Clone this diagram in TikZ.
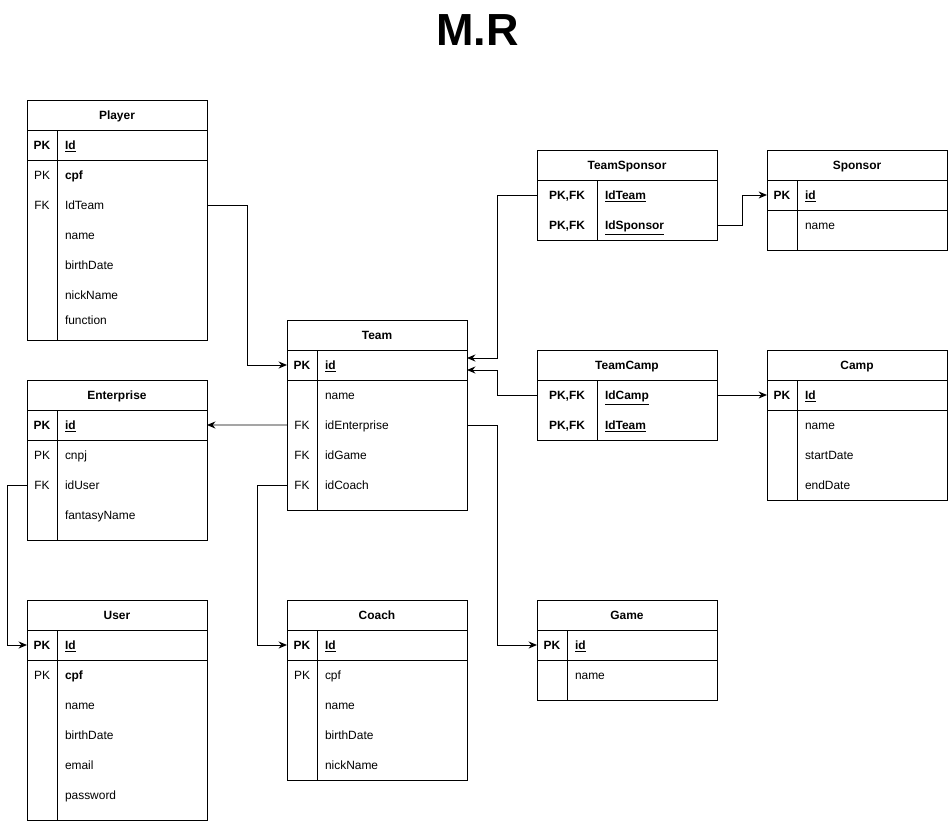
\documentclass[tikz,border=0pt]{standalone}
\usepackage{fontspec}
\setmainfont{Liberation Sans}
\usetikzlibrary{
  arrows.meta,
  positioning
}
\newcommand{\rowfont}{\fontsize{8.5}{10}\selectfont}
\tikzset{
  tabtitle/.style={
    draw=black, line width=0.7pt, outer sep=0pt, inner sep=0pt,
    minimum width=4.5cm, minimum height=0.75cm, anchor=north west,
    text height=1.6ex, text depth=0.4ex,
    font=\rowfont\bfseries
  },
  pkrow/.style={
    draw=black, line width=0.7pt, outer sep=0pt, inner sep=0pt,
    minimum width=4.5cm, minimum height=0.75cm
  },
  tabbody/.style={
    draw=black, line width=0.7pt, outer sep=0pt, inner sep=0pt,
    minimum width=4.5cm
  },
  keytxt/.style={
    outer sep=0pt, inner sep=0pt, minimum width=0.75cm,
    minimum height=0.75cm, text height=1.6ex, text depth=0.4ex,
    font=\rowfont
  },
  keywide/.style={keytxt, minimum width=1.5cm},
  fieldtxt/.style={
    outer sep=0pt, inner xsep=0.2cm, inner ysep=0pt,
    minimum height=0.75cm, text height=1.6ex, text depth=0.4ex,
    font=\rowfont
  },
  pkfont/.style={font=\rowfont\bfseries},
  coldiv/.style={draw=black, line width=0.7pt},
  relarrow/.style={
    -{Stealth[length=6pt,width=5pt]},
    draw=black, line width=0.7pt
  },
  diagramtitle/.style={
    font=\fontsize{32}{36}\selectfont\bfseries
  },
}

\begin{document}
\begin{tikzpicture}

  \useasboundingbox (0,0) rectangle (23.7,-20.525);

  \node[diagramtitle] (T) at (11.94,-0.75) {M.R};

  %% Player
  \node[tabtitle] (pl) at (0.675,-2.5) {Player};
  \node[pkrow, below=0pt of pl] (plpk) {};
  \node[tabbody, below=0pt of plpk, minimum height=4.5cm] (plbody) {};
  \draw[coldiv] ([xshift=0.75cm]plpk.north west) -- ([xshift=0.75cm]plbody.south west);
  \node[keytxt, pkfont, anchor=north west] (plk0) at (plpk.north west) {PK};
  \node[fieldtxt, pkfont, right=0pt of plk0] (plf0) {\underline{Id}};
  \node[keytxt, below=0pt of plk0] (plk1) {PK};
  \node[fieldtxt, right=0pt of plk1] (plf1) {\textbf{cpf}};
  \node[keytxt, below=0pt of plk1] (plk2) {FK};
  \node[fieldtxt, right=0pt of plk2] (plf2) {IdTeam};
  \node[keytxt, below=0pt of plk2] (plk3) {};
  \node[fieldtxt, right=0pt of plk3] (plf3) {name};
  \node[keytxt, below=0pt of plk3] (plk4) {};
  \node[fieldtxt, right=0pt of plk4] (plf4) {birthDate};
  \node[keytxt, below=0pt of plk4] (plk5) {};
  \node[fieldtxt, right=0pt of plk5] (plf5) {nickName};
  \node[keytxt, below=0pt of plk5, yshift=0.125cm] (plk6) {};
  \node[fieldtxt, right=0pt of plk6] (plf6) {function};

  %% Team
  \node[tabtitle] (tm) at (7.175,-8) {Team};
  \node[pkrow, below=0pt of tm] (tmpk) {};
  \node[tabbody, below=0pt of tmpk, minimum height=3.25cm] (tmbody) {};
  \draw[coldiv] ([xshift=0.75cm]tmpk.north west) -- ([xshift=0.75cm]tmbody.south west);
  \node[keytxt, pkfont, anchor=north west] (tmk0) at (tmpk.north west) {PK};
  \node[fieldtxt, pkfont, right=0pt of tmk0] (tmf0) {\underline{id}};
  \node[keytxt, below=0pt of tmk0] (tmk1) {};
  \node[fieldtxt, right=0pt of tmk1] (tmf1) {name};
  \node[keytxt, below=0pt of tmk1] (tmk2) {FK};
  \node[fieldtxt, right=0pt of tmk2] (tmf2) {idEnterprise};
  \node[keytxt, below=0pt of tmk2] (tmk3) {FK};
  \node[fieldtxt, right=0pt of tmk3] (tmf3) {idGame};
  \node[keytxt, below=0pt of tmk3] (tmk4) {FK};
  \node[fieldtxt, right=0pt of tmk4] (tmf4) {idCoach};

  %% Enterprise
  \node[tabtitle] (en) at (0.675,-9.5) {Enterprise};
  \node[pkrow, below=0pt of en] (enpk) {};
  \node[tabbody, below=0pt of enpk, minimum height=2.5cm] (enbody) {};
  \draw[coldiv] ([xshift=0.75cm]enpk.north west) -- ([xshift=0.75cm]enbody.south west);
  \node[keytxt, pkfont, anchor=north west] (enk0) at (enpk.north west) {PK};
  \node[fieldtxt, pkfont, right=0pt of enk0] (enf0) {\underline{id}};
  \node[keytxt, below=0pt of enk0] (enk1) {PK};
  \node[fieldtxt, right=0pt of enk1] (enf1) {cnpj};
  \node[keytxt, below=0pt of enk1] (enk2) {FK};
  \node[fieldtxt, right=0pt of enk2] (enf2) {idUser};
  \node[keytxt, below=0pt of enk2] (enk3) {};
  \node[fieldtxt, right=0pt of enk3] (enf3) {fantasyName};

  %% User
  \node[tabtitle] (us) at (0.675,-15) {User};
  \node[pkrow, below=0pt of us] (uspk) {};
  \node[tabbody, below=0pt of uspk, minimum height=4.0cm] (usbody) {};
  \draw[coldiv] ([xshift=0.75cm]uspk.north west) -- ([xshift=0.75cm]usbody.south west);
  \node[keytxt, pkfont, anchor=north west] (usk0) at (uspk.north west) {PK};
  \node[fieldtxt, pkfont, right=0pt of usk0] (usf0) {\underline{Id}};
  \node[keytxt, below=0pt of usk0] (usk1) {PK};
  \node[fieldtxt, right=0pt of usk1] (usf1) {\textbf{cpf}};
  \node[keytxt, below=0pt of usk1] (usk2) {};
  \node[fieldtxt, right=0pt of usk2] (usf2) {name};
  \node[keytxt, below=0pt of usk2] (usk3) {};
  \node[fieldtxt, right=0pt of usk3] (usf3) {birthDate};
  \node[keytxt, below=0pt of usk3] (usk4) {};
  \node[fieldtxt, right=0pt of usk4] (usf4) {email};
  \node[keytxt, below=0pt of usk4] (usk5) {};
  \node[fieldtxt, right=0pt of usk5] (usf5) {password};

  %% Coach
  \node[tabtitle] (co) at (7.175,-15) {Coach};
  \node[pkrow, below=0pt of co] (copk) {};
  \node[tabbody, below=0pt of copk, minimum height=3.0cm] (cobody) {};
  \draw[coldiv] ([xshift=0.75cm]copk.north west) -- ([xshift=0.75cm]cobody.south west);
  \node[keytxt, pkfont, anchor=north west] (cok0) at (copk.north west) {PK};
  \node[fieldtxt, pkfont, right=0pt of cok0] (cof0) {\underline{Id}};
  \node[keytxt, below=0pt of cok0] (cok1) {PK};
  \node[fieldtxt, right=0pt of cok1] (cof1) {cpf};
  \node[keytxt, below=0pt of cok1] (cok2) {};
  \node[fieldtxt, right=0pt of cok2] (cof2) {name};
  \node[keytxt, below=0pt of cok2] (cok3) {};
  \node[fieldtxt, right=0pt of cok3] (cof3) {birthDate};
  \node[keytxt, below=0pt of cok3] (cok4) {};
  \node[fieldtxt, right=0pt of cok4] (cof4) {nickName};

  %% Game
  \node[tabtitle] (gm) at (13.425,-15) {Game};
  \node[pkrow, below=0pt of gm] (gmpk) {};
  \node[tabbody, below=0pt of gmpk, minimum height=1.0cm] (gmbody) {};
  \draw[coldiv] ([xshift=0.75cm]gmpk.north west) -- ([xshift=0.75cm]gmbody.south west);
  \node[keytxt, pkfont, anchor=north west] (gmk0) at (gmpk.north west) {PK};
  \node[fieldtxt, pkfont, right=0pt of gmk0] (gmf0) {\underline{id}};
  \node[keytxt, below=0pt of gmk0] (gmk1) {};
  \node[fieldtxt, right=0pt of gmk1] (gmf1) {name};

  %% TeamSponsor
  \node[tabtitle] (ts) at (13.425,-3.75) {TeamSponsor};
  \node[tabbody, below=0pt of ts, minimum height=1.5cm] (tsbody) {};
  \draw[coldiv] ([xshift=1.5cm]tsbody.north west) -- ([xshift=1.5cm]tsbody.south west);
  \node[keywide, pkfont, anchor=north west] (tsk0) at (tsbody.north west) {PK,FK};
  \node[fieldtxt, pkfont, right=0pt of tsk0] (tsf0) {\underline{IdTeam}};
  \node[keywide, pkfont, below=0pt of tsk0] (tsk1) {PK,FK};
  \node[fieldtxt, pkfont, right=0pt of tsk1] (tsf1) {\underline{IdSponsor}};

  %% Sponsor
  \node[tabtitle] (sp) at (19.175,-3.75) {Sponsor};
  \node[pkrow, below=0pt of sp] (sppk) {};
  \node[tabbody, below=0pt of sppk, minimum height=1.0cm] (spbody) {};
  \draw[coldiv] ([xshift=0.75cm]sppk.north west) -- ([xshift=0.75cm]spbody.south west);
  \node[keytxt, pkfont, anchor=north west] (spk0) at (sppk.north west) {PK};
  \node[fieldtxt, pkfont, right=0pt of spk0] (spf0) {\underline{id}};
  \node[keytxt, below=0pt of spk0] (spk1) {};
  \node[fieldtxt, right=0pt of spk1] (spf1) {name};

  %% TeamCamp
  \node[tabtitle] (tc) at (13.425,-8.75) {TeamCamp};
  \node[tabbody, below=0pt of tc, minimum height=1.5cm] (tcbody) {};
  \draw[coldiv] ([xshift=1.5cm]tcbody.north west) -- ([xshift=1.5cm]tcbody.south west);
  \node[keywide, pkfont, anchor=north west] (tck0) at (tcbody.north west) {PK,FK};
  \node[fieldtxt, pkfont, right=0pt of tck0] (tcf0) {\underline{IdCamp}};
  \node[keywide, pkfont, below=0pt of tck0] (tck1) {PK,FK};
  \node[fieldtxt, pkfont, right=0pt of tck1] (tcf1) {\underline{IdTeam}};

  %% Camp
  \node[tabtitle] (cp) at (19.175,-8.75) {Camp};
  \node[pkrow, below=0pt of cp] (cppk) {};
  \node[tabbody, below=0pt of cppk, minimum height=2.25cm] (cpbody) {};
  \draw[coldiv] ([xshift=0.75cm]cppk.north west) -- ([xshift=0.75cm]cpbody.south west);
  \node[keytxt, pkfont, anchor=north west] (cpk0) at (cppk.north west) {PK};
  \node[fieldtxt, pkfont, right=0pt of cpk0] (cpf0) {\underline{Id}};
  \node[keytxt, below=0pt of cpk0] (cpk1) {};
  \node[fieldtxt, right=0pt of cpk1] (cpf1) {name};
  \node[keytxt, below=0pt of cpk1] (cpk2) {};
  \node[fieldtxt, right=0pt of cpk2] (cpf2) {startDate};
  \node[keytxt, below=0pt of cpk2] (cpk3) {};
  \node[fieldtxt, right=0pt of cpk3] (cpf3) {endDate};

  %% Relations
  \draw[relarrow] (plf2 -| plbody.east) -- ++(1,0) |- (tmpk.west);
  \draw[relarrow] (tsk0 -| tsbody.west) -- ++(-1,0) |- ([yshift=0.175cm]tmpk.east);
  \draw[relarrow] (tck0 -| tcbody.west) -- ++(-1,0) |- ([yshift=-0.125cm]tmpk.east);
  \draw[relarrow] (tsk1 -| tsbody.east) -- ++(0.625,0) |- (sppk.west);
  \draw[relarrow] (tck0 -| tcbody.east) -- (cppk.west);
  \draw[relarrow] (tmk2 -| tmbody.west) -- (enpk.east);
  \draw[relarrow] (tmk2 -| tmbody.east) -- ++(0.75,0) |- (gmpk.west);
  \draw[relarrow] (tmk4 -| tmbody.west) -- ++(-0.75,0) |- (copk.west);
  \draw[relarrow] (enk2 -| enbody.west) -- ++(-0.5,0) |- (uspk.west);

\end{tikzpicture}
\end{document}
